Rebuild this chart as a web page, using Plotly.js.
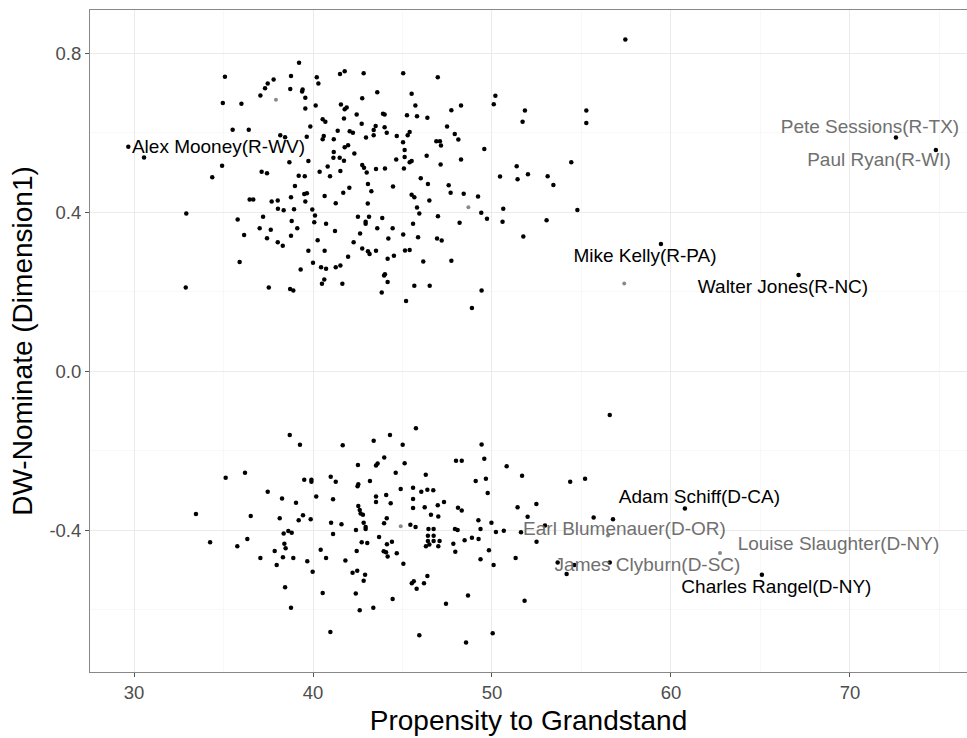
<!DOCTYPE html>
<html>
<head>
<meta charset="utf-8">
<script src="https://cdn.plot.ly/plotly-3.0.1.min.js"></script>
<style>html,body{margin:0;padding:0;background:#fff;}#chart{width:967px;height:738px;}</style>
</head>
<body>
<div id="chart"></div>
<script>
// Propensity to Grandstand (x) and DW-Nominate Dimension 1 (y) for each member
const grandstand = [
35.08,34.96,36.00,37.06,37.32,37.47,37.80,35.51,36.41,29.68,30.56,34.92,37.13,37.43,
39.22,38.77,38.73,39.42,39.39,39.57,39.57,40.21,40.30,40.15,41.51,41.77,42.83,43.59,42.75,45.04,45.51,45.72,45.25,45.81,46.39,
41.56,41.88,41.77,42.44,41.73,40.54,40.69,39.85,42.72,43.91,44.00,43.50,44.00,43.39,44.12,43.39,42.96,42.05,42.23,41.38,41.16,
40.60,40.54,39.65,38.17,38.44,44.68,45.29,45.40,45.03,45.12,44.65,45.12,45.40,45.51,46.35,45.08,41.96,41.77,41.16,42.31,41.14,
41.49,41.73,39.74,38.68,40.82,40.37,41.53,42.75,42.85,43.00,43.52,44.02,
46.97,50.19,50.10,47.73,48.27,51.84,51.71,55.27,55.27,47.49,47.92,48.12,46.89,47.09,47.15,49.57,48.27,47.13,51.38,52.01,54.43,
50.45,51.43,53.11,53.43,47.58,47.69,48.42,49.22,49.40,49.72,50.63,50.59,53.05,51.75,54.77,46.98,48.19,46.93,47.19,47.73,49.42,48.88,
34.37,36.46,36.66,37.69,32.92,35.79,37.21,37.02,37.64,36.15,37.43,35.90,32.89,37.53,
39.20,39.54,40.95,46.02,46.42,46.50,45.51,45.66,45.81,45.94,45.59,45.87,45.04,45.14,45.40,46.16,45.66,46.52,45.20,44.47,43.07,
43.26,43.06,42.03,41.69,40.65,41.27,38.99,38.77,39.51,39.66,39.57,38.03,38.04,38.36,38.94,39.96,40.11,40.07,40.73,38.81,39.12,
38.77,38.03,38.31,40.26,41.23,39.74,40.65,40.00,39.31,40.45,40.73,41.27,41.53,40.63,40.50,41.64,41.96,42.51,42.94,42.94,43.13,
43.87,43.59,44.45,42.63,44.21,42.27,42.75,43.07,43.16,43.52,44.52,44.17,44.02,43.97,44.17,43.84,38.72,38.90,
57.45,59.44,67.13,72.57,74.80,
38.70,39.27,41.66,43.39,42.51,35.12,36.20,39.51,39.91,39.91,40.99,41.27,42.53,42.49,43.18,37.47,38.27,39.05,40.18,41.12,42.53,
42.61,42.66,42.79,36.52,38.14,39.44,39.20,39.87,41.01,41.59,42.83,33.46,34.25,
35.77,36.33,37.06,37.86,38.36,38.62,38.81,38.40,38.47,38.32,38.90,37.97,39.68,39.98,40.43,40.73,38.44,38.77,40.54,40.97,41.12,
41.81,42.40,42.94,42.94,42.72,43.03,42.44,42.21,42.47,42.91,42.83,42.39,42.61,43.37,
45.75,44.30,45.01,49.42,43.98,43.61,43.52,45.12,44.62,47.99,48.31,49.57,50.82,51.68,46.30,49.09,49.66,49.76,44.90,45.59,46.05,
46.39,46.72,43.52,44.09,43.52,44.34,45.59,47.32,46.97,45.59,46.24,48.10,48.31,51.43,46.59,47.00,44.12,43.97,49.24,49.97,51.99,45.44,
45.73,46.45,46.74,47.93,48.08,49.36,50.22,50.66,43.69,44.13,44.41,43.95,44.08,44.17,44.68,46.42,46.74,46.42,46.74,47.07,46.31,
46.50,47.00,47.84,47.95,48.47,48.88,49.25,49.83,49.36,50.09,51.32,51.62,45.05,46.39,45.52,45.63,46.20,45.79,44.45,47.43,48.66,
51.82,45.94,48.55,50.04,
56.58,54.37,55.20,52.48,60.78,55.68,56.76,52.96,52.49,53.67,54.17,54.60,56.58,65.08
];
const dwNominate = [
0.741,0.675,0.673,0.694,0.712,0.724,0.734,0.608,0.608,0.565,0.538,0.517,0.502,0.498,
0.776,0.743,0.710,0.709,0.704,0.688,0.661,0.740,0.724,0.669,0.748,0.755,0.750,0.702,0.687,0.750,0.698,0.669,0.644,0.642,0.638,
0.671,0.664,0.659,0.646,0.636,0.634,0.628,0.616,0.623,0.648,0.646,0.617,0.614,0.607,0.600,0.594,0.588,0.604,0.600,0.605,0.584,
0.592,0.584,0.590,0.594,0.589,0.592,0.594,0.602,0.576,0.557,0.533,0.539,0.526,0.529,0.542,0.510,0.569,0.564,0.552,0.548,0.537,
0.537,0.530,0.529,0.526,0.515,0.502,0.504,0.519,0.512,0.500,0.509,0.510,
0.740,0.693,0.672,0.657,0.669,0.656,0.628,0.656,0.625,0.616,0.597,0.583,0.579,0.579,0.568,0.559,0.533,0.520,0.516,0.496,0.526,
0.490,0.483,0.491,0.469,0.468,0.449,0.447,0.440,0.399,0.384,0.409,0.376,0.380,0.339,0.406,0.390,0.374,0.334,0.329,0.278,0.203,0.159,
0.488,0.432,0.432,0.427,0.397,0.382,0.389,0.360,0.356,0.343,0.335,0.275,0.211,0.211,
0.492,0.491,0.491,0.486,0.471,0.430,0.444,0.438,0.412,0.397,0.371,0.337,0.344,0.304,0.305,0.276,0.215,0.215,0.177,0.465,0.471,
0.453,0.422,0.462,0.449,0.441,0.423,0.466,0.438,0.446,0.448,0.427,0.430,0.409,0.405,0.408,0.407,0.392,0.375,0.371,0.378,0.360,
0.341,0.325,0.316,0.330,0.353,0.303,0.303,0.273,0.256,0.262,0.258,0.262,0.266,0.231,0.220,0.220,0.288,0.389,0.376,0.371,0.389,
0.386,0.360,0.360,0.347,0.334,0.325,0.309,0.302,0.295,0.303,0.291,0.283,0.244,0.241,0.225,0.198,0.207,0.203,
0.835,0.320,0.242,0.588,0.557,
-0.160,-0.185,-0.186,-0.175,-0.236,-0.268,-0.255,-0.273,-0.273,-0.278,-0.265,-0.278,-0.284,-0.289,-0.276,-0.303,-0.320,-0.331,-0.315,-0.322,-0.339,
-0.349,-0.358,-0.361,-0.364,-0.370,-0.362,-0.375,-0.372,-0.381,-0.385,-0.381,-0.359,-0.430,
-0.440,-0.422,-0.470,-0.452,-0.408,-0.402,-0.406,-0.434,-0.445,-0.468,-0.470,-0.487,-0.478,-0.504,-0.449,-0.470,-0.543,-0.595,-0.558,-0.656,-0.409,
-0.476,-0.399,-0.392,-0.397,-0.430,-0.432,-0.452,-0.507,-0.502,-0.512,-0.527,-0.559,-0.601,-0.595,
-0.143,-0.160,-0.185,-0.184,-0.217,-0.232,-0.237,-0.231,-0.255,-0.225,-0.225,-0.220,-0.239,-0.263,-0.260,-0.276,-0.270,-0.306,-0.296,-0.293,-0.303,
-0.298,-0.299,-0.315,-0.311,-0.329,-0.332,-0.321,-0.329,-0.337,-0.344,-0.342,-0.343,-0.350,-0.342,-0.361,-0.365,-0.370,-0.382,-0.375,-0.381,-0.366,-0.386,
-0.392,-0.397,-0.397,-0.397,-0.399,-0.397,-0.404,-0.401,-0.417,-0.435,-0.429,-0.453,-0.455,-0.466,-0.458,-0.414,-0.414,-0.427,-0.427,-0.427,-0.440,
-0.436,-0.440,-0.434,-0.454,-0.425,-0.419,-0.422,-0.450,-0.473,-0.487,-0.470,-0.405,-0.484,-0.515,-0.533,-0.528,-0.533,-0.547,-0.573,-0.585,-0.564,
-0.577,-0.664,-0.682,-0.659,
-0.110,-0.278,-0.270,-0.334,-0.345,-0.368,-0.372,-0.388,-0.429,-0.481,-0.510,-0.487,-0.481,-0.512
];
// faint (grey) members
const greyGrandstand = [37.93, 48.68, 57.39, 44.90, 56.48, 62.74];
const greyDwNominate = [0.683, 0.413, 0.221, -0.390, -0.413, -0.457];

// labelled members
const labelNames = ["Alex Mooney(R-WV)","Pete Sessions(R-TX)","Paul Ryan(R-WI)","Mike Kelly(R-PA)","Walter Jones(R-NC)",
  "Adam Schiff(D-CA)","Earl Blumenauer(D-OR)","Louise Slaughter(D-NY)","James Clyburn(D-SC)","Charles Rangel(D-NY)"];
const labelX = [34.72, 71.12, 71.62, 58.55, 66.26, 61.59, 57.40, 69.36, 58.69, 65.89];
const labelY = [0.562, 0.612, 0.529, 0.2875, 0.2096, -0.3187, -0.399, -0.437, -0.490, -0.545];
const labelFaint = [false, true, true, false, false, false, true, true, true, false];

const xTickVals = [30, 40, 50, 60, 70];
const xTickText = ["30", "40", "50", "60", "70"];
const yTickVals = [-0.4, 0.0, 0.4, 0.8];
const yTickText = ["-0.4", "0.0", "0.4", "0.8"];

const FONT = "Liberation Sans, Arial, sans-serif";
const traces = [
  {x: grandstand, y: dwNominate, type: "scatter", mode: "markers",
   marker: {color: "#000000", size: 4.5}, hoverinfo: "skip", showlegend: false},
  {x: greyGrandstand, y: greyDwNominate, type: "scatter", mode: "markers",
   marker: {color: "#8a8a8a", size: 4}, hoverinfo: "skip", showlegend: false},
  {x: labelX, y: labelY, type: "scatter", mode: "text", text: labelNames,
   textposition: "middle center",
   textfont: {family: FONT, size: 19,
              color: labelFaint.map(f => f ? "#707070" : "#000000")},
   hoverinfo: "skip", showlegend: false}
];

const axisFont = {family: FONT, size: 18.5, color: "#4d4d4d"};
const layout = {
  width: 967, height: 738,
  margin: {l: 90, r: 0, t: 10, b: 66},
  paper_bgcolor: "#ffffff", plot_bgcolor: "#ffffff",
  font: {family: FONT},
  xaxis: {
    range: [27.54, 76.54], tickvals: xTickVals, ticktext: xTickText,
    showgrid: true, gridcolor: "#ebebeb", gridwidth: 1,
    minor: {dtick: 5, tick0: 0, showgrid: true, gridcolor: "#f3f3f3", gridwidth: 0.6, ticks: ""},
    zeroline: false, showline: true, linecolor: "#888888", linewidth: 1, mirror: true,
    ticks: "outside", ticklen: 4, tickcolor: "#555555", tickwidth: 1,
    tickfont: axisFont,
    title: {text: "Propensity to Grandstand", font: {family: FONT, size: 28, color: "#000"}, standoff: 8}
  },
  yaxis: {
    range: [-0.7565, 0.909], tickvals: yTickVals, ticktext: yTickText,
    showgrid: true, gridcolor: "#ebebeb", gridwidth: 1,
    minor: {dtick: 0.2, tick0: 0, showgrid: true, gridcolor: "#f3f3f3", gridwidth: 0.6, ticks: ""},
    zeroline: false, showline: true, linecolor: "#888888", linewidth: 1, mirror: true,
    ticks: "outside", ticklen: 4, tickcolor: "#555555", tickwidth: 1,
    tickfont: axisFont,
    title: {text: "DW-Nominate (Dimension1)", font: {family: FONT, size: 28, color: "#000"}, standoff: 8}
  }
};

Plotly.newPlot("chart", traces, layout, {staticPlot: true, displayModeBar: false});
</script>
</body>
</html>
